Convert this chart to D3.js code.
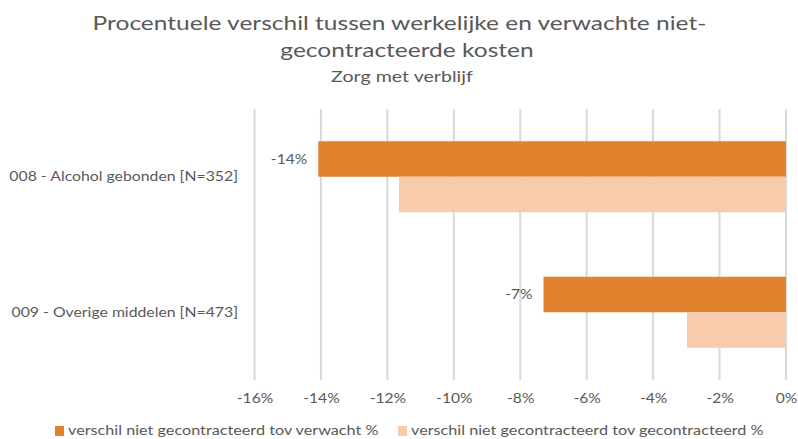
<!DOCTYPE html>
<html>
<head>
<meta charset="utf-8">
<script src="https://cdn.jsdelivr.net/npm/d3@7"></script>
<style>
	body { margin: 0; background: #fff; }
	text { font-family: Lato, "Open Sans", sans-serif; fill: #595959; }
</style>
</head>
<body>
<script>
const categories = ['008 - Alcohol gebonden [N=352]', '009 - Overige middelen [N=473]'];
const seriesNames = ['verschil niet gecontracteerd tov verwacht %', 'verschil niet gecontracteerd tov gecontracteerd %'];
const verwacht = [-0.1408, -0.0730];
const gecontracteerd = [-0.1165, -0.0298];
const xTicks = [-0.16, -0.14, -0.12, -0.10, -0.08, -0.06, -0.04, -0.02, 0];
const colors = ['#E0832C', '#F8CBAD'];

let width = 798, height = 439;
let svg = d3.select('body').append('svg')
	.attr('width', width)
	.attr('height', height);

// titles
let titles = svg.append('g').attr('class', 'titles');
titles.append('text').attr('x', 399.5).attr('y', 30).attr('text-anchor', 'middle')
	.style('font-size', '20px').text('Procentuele verschil tussen werkelijke en verwachte niet-');
titles.append('text').attr('x', 407).attr('y', 57).attr('text-anchor', 'middle')
	.style('font-size', '20px').text('gecontracteerde kosten');
titles.append('text').attr('x', 402).attr('y', 82).attr('text-anchor', 'middle')
	.style('font-size', '16px').text('Zorg met verblijf');

let x = d3.scaleLinear().domain([-0.16, 0]).range([254.5, 786]);
let y0 = d3.scaleBand().domain(categories).range([109, 380]);
let y1 = d3.scaleBand().domain(seriesNames).range([0, y0.bandwidth()]).paddingOuter(0.908);

let pct = d => Math.round(d * 100) + '%';

// gridlines
svg.append('g').selectAll('line').data(xTicks).enter().append('line')
	.attr('x1', d => x(d)).attr('x2', d => x(d))
	.attr('y1', 109).attr('y2', 380)
	.style('stroke', '#D9D9D9').style('stroke-width', 2);

// x axis labels
let xAxis = svg.append('g').attr('transform', 'translate(0,380)')
	.call(d3.axisBottom(x).tickValues(xTicks).tickFormat(pct).tickSize(0).tickPadding(14));
xAxis.select('.domain').remove();
xAxis.selectAll('text').style('font-size', '13px').style('fill', '#595959')
	.style('font-family', 'Lato, "Open Sans", sans-serif');

// category labels
svg.append('g').attr('class', 'cats').selectAll('text').data(categories).enter().append('text')
	.attr('x', 238)
	.attr('y', d => y0(d) + y0.bandwidth() / 2)
	.attr('dy', '0.35em')
	.attr('text-anchor', 'end')
	.style('font-size', '13.5px')
	.text(d => d);

let rows = [];
categories.forEach((c, i) => {
	rows.push({ cat: c, series: seriesNames[0], value: verwacht[i], color: colors[0], label: true });
	rows.push({ cat: c, series: seriesNames[1], value: gecontracteerd[i], color: colors[1], label: false });
});

svg.append('g').selectAll('rect').data(rows).enter().append('rect')
	.attr('x', d => x(d.value))
	.attr('width', d => x(0) - x(d.value))
	.attr('y', d => y0(d.cat) + y1(d.series))
	.attr('height', y1.bandwidth())
	.style('fill', d => d.color);

// data labels
svg.append('g').selectAll('text').data(rows.filter(d => d.label)).enter().append('text')
	.attr('x', d => x(d.value) - 11)
	.attr('y', d => y0(d.cat) + y1(d.series) + y1.bandwidth() / 2)
	.attr('dy', '0.35em')
	.attr('text-anchor', 'end')
	.style('font-size', '13px')
	.text(d => pct(d.value));

// legend
let legendPos = [55, 398];
let legend = svg.append('g').selectAll('g').data(seriesNames).enter().append('g')
	.attr('transform', (d, i) => `translate(${legendPos[i]},426)`);
legend.append('rect').attr('width', 9).attr('height', 10).style('fill', (d, i) => colors[i]);
legend.append('text').attr('x', 13).attr('y', 4.5).attr('dy', '0.35em')
	.style('font-size', '13.5px').text(d => d);

// the original chart is stretched sideways; widen the text the same way
svg.selectAll('text').each(function() {
	let cls = this.parentNode.getAttribute('class');
	let stretch = cls === 'titles' ? 1.225 : cls === 'cats' ? 1.17 : 1.2;
	let w = this.getComputedTextLength();
	d3.select(this).attr('textLength', w * stretch).attr('lengthAdjust', 'spacingAndGlyphs');
});
</script>
</body>
</html>
